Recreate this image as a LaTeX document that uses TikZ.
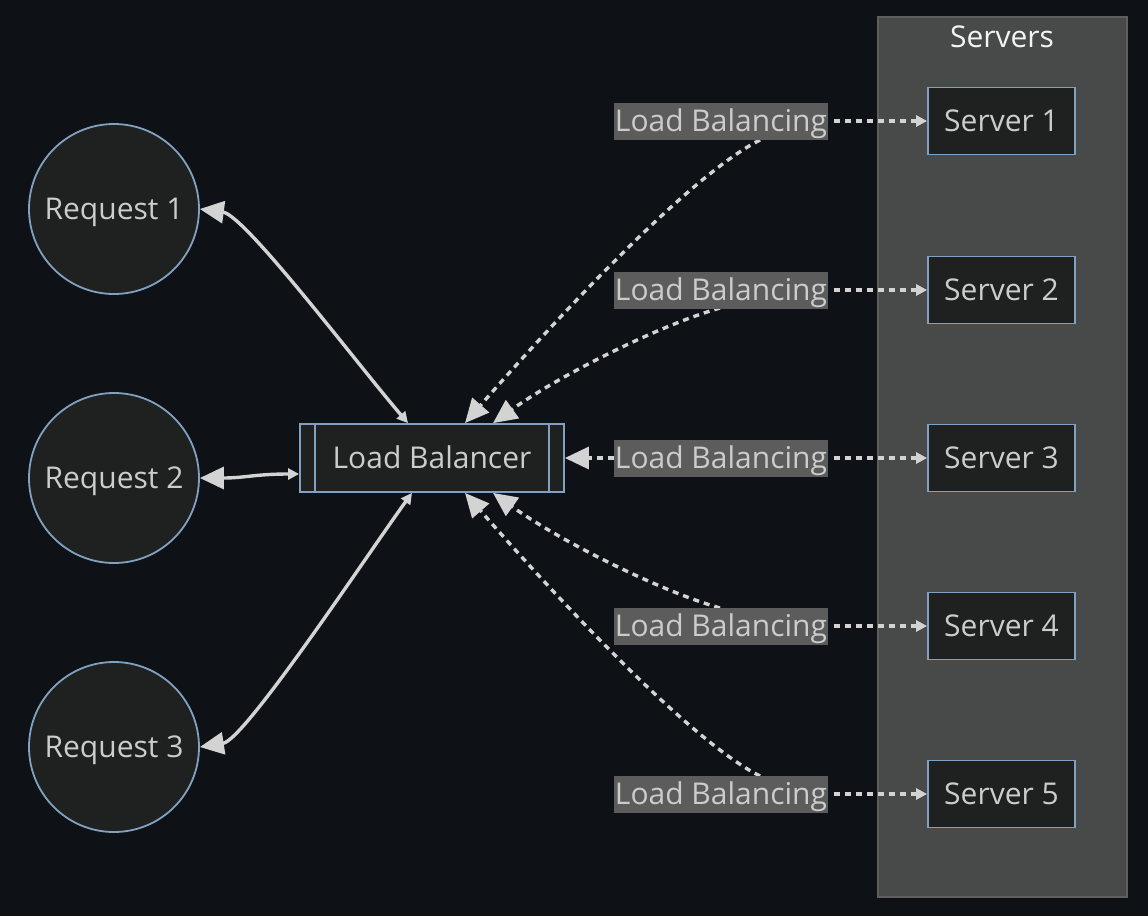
\documentclass[tikz,border=0pt]{standalone}
\usepackage{fontspec}
\setmainfont{Open Sans}
\usetikzlibrary{arrows.meta}
\definecolor{bgc}{HTML}{0E1116}
\definecolor{nodefill}{HTML}{1F2020}
\definecolor{nodeborder}{HTML}{81A1C1}
\definecolor{txt}{HTML}{CCCCCC}
\definecolor{clusterfill}{HTML}{484949}
\definecolor{clusterborder}{HTML}{5E5E5E}
\definecolor{lblfill}{HTML}{5C5C5C}
\definecolor{edgec}{HTML}{D3D3D3}
\definecolor{titlec}{HTML}{F4F4F4}
\pgfdeclarelayer{bg}
\pgfdeclarelayer{edges}
\pgfsetlayers{bg,edges,main}
\tikzset{
  every node/.style={font=\fontsize{30}{34}\selectfont, text=txt, text height=22pt, text depth=1pt},
  reqnode/.style={circle, draw=nodeborder, line width=1.8pt, fill=nodefill, minimum size=170pt, inner sep=0pt},
  srvnode/.style={rectangle, draw=nodeborder, line width=1.8pt, fill=nodefill, minimum width=147pt, minimum height=67pt, inner sep=0pt},
  lbnode/.style={rectangle, draw=nodeborder, line width=1.8pt, fill=nodefill, minimum width=264pt, minimum height=68pt, inner sep=0pt},
  lblnode/.style={rectangle, fill=lblfill, inner xsep=1pt, inner ysep=0pt, minimum height=37pt},
  solidedge/.style={draw=edgec, line width=3.4pt},
  dotedge/.style={draw=edgec, line width=3.4pt, dash pattern=on 6pt off 5pt},
  bigtip/.tip={Triangle[length=24pt, width=22pt]},
  smalltip/.tip={Triangle[length=11pt, width=11pt]},
}
\begin{document}
\begin{tikzpicture}[x=1pt, y=-1pt]
\useasboundingbox (0,0) rectangle (1148,916);
\begin{pgfonlayer}{bg}
  \fill[bgc] (0,0) rectangle (1148,916);
  \filldraw[fill=clusterfill, draw=clusterborder, line width=1.5pt] (878,17) rectangle (1127,897);
\end{pgfonlayer}
\node[text=titlec] (title) at (1002,37) {Servers};

\node[reqnode] (R1) at (114,209) {Request 1};
\node[reqnode] (R2) at (114,478) {Request 2};
\node[reqnode] (R3) at (114,747) {Request 3};

\node[lbnode] (LB) at (432,458) {Load Balancer};
\draw[nodeborder, line width=1.8pt] ([xshift=16pt]LB.north west) -- ([xshift=16pt]LB.south west);
\draw[nodeborder, line width=1.8pt] ([xshift=-16pt]LB.north east) -- ([xshift=-16pt]LB.south east);

\foreach \i/\y in {1/121, 2/290, 3/458, 4/626, 5/794} {
  \node[srvnode] (S\i) at (1001.5,\y) {Server \i};
  \node[lblnode] (L\i) at (721,\y) {Load Balancing};
}

\coordinate (LBt1) at ([xshift=33pt]LB.north);
\coordinate (LBt2) at ([xshift=61pt]LB.north);
\coordinate (LBb1) at ([xshift=33pt]LB.south);
\coordinate (LBb2) at ([xshift=61pt]LB.south);
\coordinate (LBr1) at ([xshift=-24pt]LB.north);
\coordinate (LBr3) at ([xshift=-20pt]LB.south);
\coordinate (LBl) at ([yshift=-16pt]LB.west);
\coordinate (L1s) at (760,140);
\coordinate (L2s) at (720,308);
\coordinate (L4s) at (720,608);
\coordinate (L5s) at (760,776);

\begin{pgfonlayer}{edges}
  % requests
  \draw[solidedge, {bigtip}-{smalltip}] (R1.east) .. controls (245,215) and (358,365) .. (LBr1);
  \draw[solidedge, {bigtip}-{smalltip}] (R2.east) .. controls (245,478) and (255,474) .. (LBl);
  \draw[solidedge, {bigtip}-{smalltip}] (R3.east) .. controls (245,740) and (367,555) .. (LBr3);
  % label to load balancer
  \draw[dotedge, -{bigtip}] (L1s) .. controls (680,180) and (520,360) .. (LBt1);
  \draw[dotedge, -{bigtip}] (L2s) .. controls (660,325) and (560,375) .. (LBt2);
  \draw[dotedge, -{bigtip}] (L3.west) -- (LB.east);
  \draw[dotedge, -{bigtip}] (L4s) .. controls (660,591) and (560,541) .. (LBb2);
  \draw[dotedge, -{bigtip}] (L5s) .. controls (680,736) and (520,556) .. (LBb1);
  % label to servers
  \foreach \i in {1,...,5} {
    \draw[dotedge, -{smalltip}] ([xshift=6pt]L\i.east) -- (S\i.west);
  }
\end{pgfonlayer}
\end{tikzpicture}
\end{document}
